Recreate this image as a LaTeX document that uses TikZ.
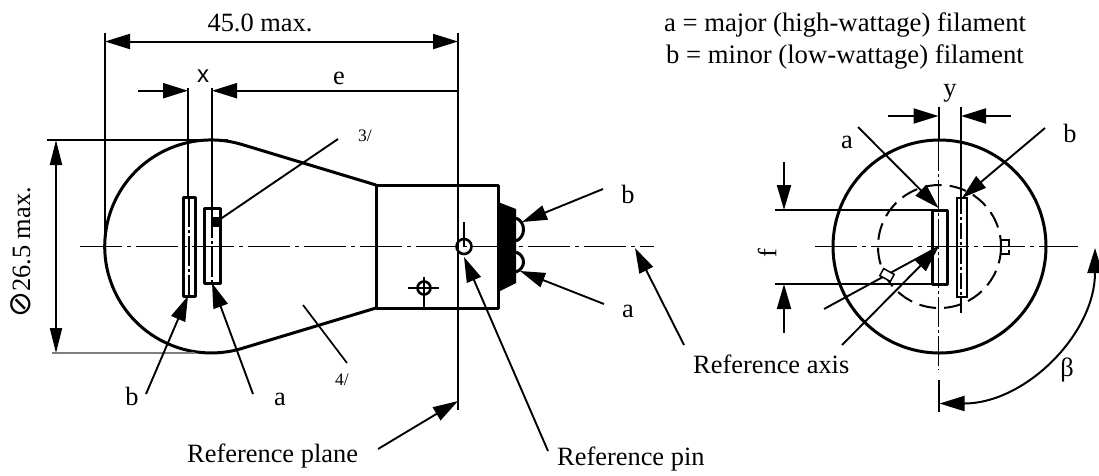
\documentclass[tikz,border=0pt]{standalone}
\usepackage{fontspec}
\setmainfont{Liberation Serif}
\newfontfamily\symfont{DejaVu Sans}
\newfontfamily\sansx{Liberation Sans}
\usetikzlibrary{arrows.meta}
\newcommand{\bigtxt}{\fontsize{26.4}{30}\selectfont}
\tikzset{
  bigtip/.tip={Triangle[length=25pt,width=15pt]},
  dim/.style={line width=2pt,black},
  thinl/.style={line width=1.5pt,black},
  outl/.style={line width=3pt,black,line join=round},
  dd/.style={line width=1.8pt,dash pattern=on 42pt off 5pt on 4pt off 5pt},
  ddv/.style={line width=1.7pt,dash pattern=on 30pt off 3pt on 3pt off 3pt},
  lbl/.style={inner sep=0pt,font=\bigtxt},
  small/.style={inner sep=0pt,font=\fontsize{17.5}{20}\selectfont},
  lead/.style={line width=1.9pt,-{bigtip}},
  twin/.style={line width=2pt,{bigtip}-{bigtip}},
}
\begin{document}
\begin{tikzpicture}[x=1pt,y=-1pt]
\useasboundingbox (0,0) rectangle (1099,475);
% ---- texts
\node[lbl,anchor=base] (tmax) at (260,31) {45.0 max.};
\node[inner sep=0pt,font=\sansx\fontsize{24}{26}\selectfont] (tx) at (203,76) {x};
\node[lbl] (te) at (339,78) {e};
\node[lbl,anchor=base,font=\fontsize{26.7}{30}\selectfont] (tl1) at (845,31) {a = major (high-wattage) filament};
\node[lbl,anchor=base,font=\fontsize{26.7}{30}\selectfont] (tl2) at (845,63) {b = minor (low-wattage) filament};
\node[lbl,anchor=base] (ty) at (950,96) {y};
\node[small] (t3) at (365,136) {3/};
\node[small] (t4) at (342,380) {4/};
\node[lbl,rotate=90,anchor=base] (tdia) at (30,252.5) {{\symfont\fontsize{31}{33}\selectfont ⊘}26.5 max.};
\node[lbl,anchor=base] (tbl) at (132,405) {b};
\node[lbl,anchor=base] (tal) at (280,405) {a};
\node[lbl,anchor=base] (tbb) at (628,203) {b};
\node[lbl,anchor=base] (tab) at (628,317) {a};
\node[lbl,anchor=base west] (tplane) at (187,462) {Reference plane};
\node[lbl,anchor=base west] (tpin) at (557,465) {Reference pin};
\node[lbl,anchor=base west] (taxis) at (693,373) {Reference axis};
\node[lbl,anchor=base] (tar) at (847,148) {a};
\node[lbl,anchor=base] (tbr) at (1070,142) {b};
\node[lbl,rotate=90] (tf) at (767,253) {f};
\node[lbl] (tbeta) at (1067,370) {β};
% ---- left view: bulb
\draw[outl] (376,185) -- (242,144.5) arc[start angle=-73.2,end angle=-286.8,radius=106.5] -- (376,308);
\draw[outl] (376,185) rectangle (498,308);
\draw[dd] (80,246.5) -- (654,246.5);
% cap and contacts
\fill[black] (498,202) -- (516,209) -- (516,283) -- (498,292) -- cycle;
\draw[outl] (516,218) .. controls (526,222) and (526,237) .. (516,241);
\draw[outl] (516,252) .. controls (526,256) and (526,268) .. (516,272);
% pins
\draw[line width=2.6pt] (464,246.5) circle[radius=7.5];
\draw[thinl] (464,222) -- (464,247);
\draw[line width=2.6pt] (424,288) circle[radius=6.5];
\draw[thinl] (408,288) -- (439,288) (424,277) -- (424,308);
% filaments
\draw[outl] (183,197) rectangle (195,296);
\draw[outl] (204,208) rectangle (220,283);
\draw[ddv] (189,197) -- (189,296);
\draw[ddv] (212,208) -- (212,283);
\fill[black] (212,217) rectangle (220,227);
% dimensions
\draw[dim] (105,33) -- (105,246.5);
\draw[dim] (458,33) -- (458,410);
\draw[twin] (105,41.5) -- (458,41.5);
\draw[dim] (188,88) -- (188,197);
\draw[dim] (212,88) -- (212,208);
\draw[dim,-{bigtip}] (138,90.7) -- (188,90.7);
\draw[dim,-{bigtip}] (458,90.7) -- (212,90.7);
\draw[thinl] (47,140) -- (228,140);
\draw[thinl,gray] (52,353) -- (195,353);
\draw[dim,{Triangle[length=25pt,width=12pt]}-{Triangle[length=25pt,width=12pt]}] (56,140) -- (56,353);
% leaders left
\coordinate (s3) at (216,222); \coordinate (e3) at (338,139);
\draw[line width=1.9pt] (s3) -- (e3);
\coordinate (s4) at (303,305); \coordinate (e4) at (347,363);
\draw[line width=1.7pt] (s4) -- (e4);
\draw[lead] (146,394) -- (188,296);
\draw[lead] (253,394) -- (212,283);
\draw[lead] (603,189) -- (522,222);
\draw[lead] (604,304) -- (520,271);
\draw[lead] (684,345) -- (635,248);
\draw[lead] (378,449) -- (458,401);
\draw[lead] (548,451) -- (464,257);
% ---- right view
\draw[outl] (939.5,246.5) circle[radius=106.5];
\draw[line width=2pt,dash pattern=on 17pt off 8pt] (939.5,246.5) circle[radius=61.5];
\draw[dd] (815,246.5) -- (1078,246.5);
\draw[outl] (932,210) rectangle (947,284);
\draw[line width=2.6pt] (957,198) rectangle (967,297);
% verticals
\draw[dim] (938.5,107) -- (938.5,141);
\draw[ddv] (938.5,141) -- (938.5,370);
\draw[dim] (938.5,380) -- (938.5,412);
\draw[dim] (961,107) -- (961,198);
\draw[line width=1.7pt,dash pattern=on 16pt off 3pt on 3pt off 3pt] (961,198) -- (961,313);
% y dim
\draw[dim,-{bigtip}] (888,116) -- (938.5,116);
\draw[dim,-{bigtip}] (1011,116) -- (961,116);
% f dim
\draw[thinl] (775,210) -- (932,210);
\draw[thinl] (775,284) -- (932,284);
\draw[dim,-{Triangle[length=25pt,width=14pt]}] (784,162) -- (784,210);
\draw[dim,-{Triangle[length=25pt,width=14pt]}] (784,333) -- (784,284);
% leaders right
\draw[lead] (858,127) -- (938.5,208);
\draw[lead] (1045,128) -- (962,198);
\draw[lead] (842,345) -- (938,248);
\draw[line width=1.9pt] (824,309) -- (938,247);
\node[draw,line width=1.5pt,fill=white,minimum width=12pt,minimum height=8pt,inner sep=0pt,rotate=-29] (sq) at (887,275) {};
% bracket mark
\draw[line width=1.7pt] (1001,240) -- (1009,240) -- (1009,246);
\draw[line width=1.7pt] (1009,250) -- (1009,254) -- (1001,254);
% beta arc
\draw[dim,{bigtip}-{bigtip}] (1095,248) arc[start angle=0,end angle=90,radius=155.5];
\end{tikzpicture}
\end{document}
